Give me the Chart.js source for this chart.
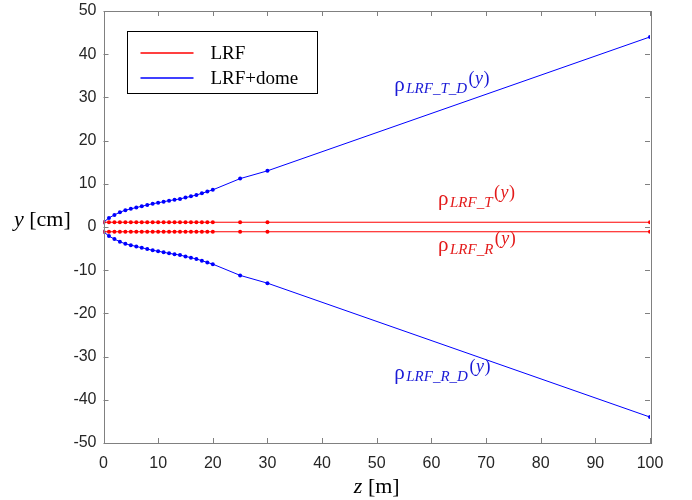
<!DOCTYPE html>
<html>
<head>
<meta charset="utf-8">
<script src="https://cdn.jsdelivr.net/npm/chart.js@4/dist/chart.umd.min.js"></script>
<style>
  html, body { margin: 0; padding: 0; background: #fff; }
  #wrap { width: 692px; height: 500px; }
</style>
</head>
<body>
<div id="wrap"><canvas id="rho"></canvas></div>
<script>
// distance along z [m]
const zVals = [0, 1, 2, 3, 4, 5, 6, 7, 8, 9, 10, 11, 12, 13, 14, 15, 16, 17, 18, 19, 20, 25, 30, 100];
// LRF only [cm]
const lrfTop = [1.1, 1.1, 1.1, 1.1, 1.1, 1.1, 1.1, 1.1, 1.1, 1.1, 1.1, 1.1, 1.1, 1.1, 1.1, 1.1, 1.1, 1.1, 1.1, 1.1, 1.1, 1.1, 1.1, 1.1];
const lrfBottom = [-1.1, -1.1, -1.1, -1.1, -1.1, -1.1, -1.1, -1.1, -1.1, -1.1, -1.1, -1.1, -1.1, -1.1, -1.1, -1.1, -1.1, -1.1, -1.1, -1.1, -1.1, -1.1, -1.1, -1.1];
// LRF + dome [cm]
const domeTop = [1.1, 2.1, 2.8, 3.4, 3.9, 4.2, 4.5, 4.8, 5.1, 5.4, 5.6, 5.85, 6.1, 6.3, 6.5, 6.8, 7.1, 7.4, 7.8, 8.2, 8.6, 11.2, 13.0, 44.0];
const domeBottom = [-1.1, -2.1, -2.8, -3.4, -3.9, -4.2, -4.5, -4.8, -5.1, -5.4, -5.6, -5.85, -6.1, -6.3, -6.5, -6.8, -7.1, -7.4, -7.8, -8.2, -8.6, -11.2, -13.0, -44.0];
const xTicks = [0, 10, 20, 30, 40, 50, 60, 70, 80, 90, 100];
const yTicks = [-50, -40, -30, -20, -10, 0, 10, 20, 30, 40, 50];
const legendLabels = ['LRF', 'LRF+dome'];
// curve labels: [subscript, z, y, colour]
const curveLabels = [
  ['LRF_T_D', 53.2, 31.5, 'blue'],
  ['LRF_T', 61.2, 5.2, 'red'],
  ['LRF_R', 61.2, -5.6, 'red'],
  ['LRF_R_D', 53.2, -35.1, 'blue']
];

const RED = '#ff0000', BLUE = '#0000ff';
const TXT = { red: '#e31a1a', blue: '#1a1ad6' };
const SERIF = '"Liberation Serif", "Times New Roman", serif';

function pts(ys) { return zVals.map((z, i) => ({ x: z, y: ys[i] })) }

function series(ys, col) {
  return {
    data: pts(ys), showLine: true, borderColor: col, backgroundColor: col,
    borderWidth: 1, pointRadius: 2, pointBorderWidth: 0, pointHoverRadius: 2
  }
}

const framePlugin = {
  id: 'frame',
  afterDraw(chart) {
    const c = chart.ctx, a = chart.chartArea
    const xs = chart.scales.x, ys = chart.scales.y
    c.save()
    c.strokeStyle = '#808080'
    c.lineWidth = 1
    c.strokeRect(Math.round(a.left) + 0.5, Math.round(a.top) + 0.5,
                 Math.round(a.right - a.left), Math.round(a.bottom - a.top))
    c.beginPath()
    xTicks.forEach(v => {
      const p = Math.round(xs.getPixelForValue(v)) + 0.5
      c.moveTo(p, a.bottom); c.lineTo(p, a.bottom - 5)
      c.moveTo(p, a.top); c.lineTo(p, a.top + 5)
    })
    yTicks.forEach(v => {
      const p = Math.round(ys.getPixelForValue(v)) + 0.5
      c.moveTo(a.left, p); c.lineTo(a.left + 5, p)
      c.moveTo(a.right, p); c.lineTo(a.right - 5, p)
    })
    c.stroke()

    // legend box
    const lx = a.left + 23, ly = a.top + 20, lw = 190, lh = 62
    c.fillStyle = '#fff'
    c.fillRect(lx, ly, lw, lh)
    c.strokeStyle = '#000'
    c.strokeRect(Math.round(lx) + 0.5, Math.round(ly) + 0.5, lw, lh)
    c.font = '19px ' + SERIF
    c.textBaseline = 'alphabetic'
    c.textAlign = 'left'
    c.lineWidth = 1.6;
    [[RED, 21.5], [BLUE, 46.5]].forEach((s, i) => {
      c.strokeStyle = s[0]
      c.beginPath()
      c.moveTo(lx + 14, Math.round(ly + s[1]))
      c.lineTo(lx + 67, Math.round(ly + s[1]))
      c.stroke()
      c.fillStyle = '#000'
      c.fillText(legendLabels[i], lx + 84, ly + s[1] + 6)
    })

    // curve labels
    curveLabels.forEach(l => {
      const x0 = xs.getPixelForValue(l[1]), b0 = ys.getPixelForValue(l[2])
      c.fillStyle = TXT[l[3]]
      c.font = '21px ' + SERIF
      c.fillText('\u03c1', x0, b0)
      c.font = 'italic 15px ' + SERIF
      const sx = x0 + 12
      c.fillText(l[0], sx, b0 + 2.5)
      let px = sx + c.measureText(l[0]).width + 1.5
      const pb = b0 - 7
      c.font = '18px ' + SERIF
      c.fillText('(', px, pb); px += c.measureText('(').width + 0.5
      c.font = 'italic 18px ' + SERIF
      c.fillText('y', px, pb); px += c.measureText('y').width + 0.5
      c.font = '18px ' + SERIF
      c.fillText(')', px, pb)
    })

    // axis titles
    c.fillStyle = '#000'
    c.font = 'italic 22px ' + SERIF
    c.fillText('y', 14, 226)
    let w = c.measureText('y').width
    c.font = '22px ' + SERIF
    c.fillText(' [cm]', 14 + w, 226)
    const mid = (a.left + a.right) / 2
    c.font = 'italic 22px ' + SERIF
    const wz = c.measureText('z').width
    c.font = '22px ' + SERIF
    const wm = c.measureText(' [m]').width
    const sx = mid - (wz + wm) / 2
    c.font = 'italic 22px ' + SERIF
    c.fillText('z', sx, 493)
    c.font = '22px ' + SERIF
    c.fillText(' [m]', sx + wz, 493)
    c.restore()
  }
}

const tickFont = { family: '"Liberation Sans", Arial, sans-serif', size: 16 }

new Chart(document.getElementById('rho'), {
  type: 'scatter',
  data: {
    datasets: [
      series(lrfTop, RED), series(lrfBottom, RED),
      series(domeTop, BLUE), series(domeBottom, BLUE)
    ]
  },
  options: {
    responsive: true,
    maintainAspectRatio: false,
    animation: false,
    events: [],
    layout: { padding: { top: 11, right: 42, left: 0, bottom: 0 } },
    plugins: { legend: { display: false }, tooltip: { enabled: false } },
    scales: {
      x: {
        type: 'linear', min: 0, max: 100,
        afterFit(s) { s.height = 57; s.paddingLeft = 0; s.paddingRight = 0 },
        afterBuildTicks(s) { s.ticks = xTicks.map(v => ({ value: v })) },
        grid: { display: false, drawTicks: false }, border: { display: false },
        ticks: { font: tickFont, color: '#262626', padding: 11, maxRotation: 0 }
      },
      y: {
        type: 'linear', min: -50, max: 50,
        afterFit(s) { s.width = 103.5; s.paddingTop = 0; s.paddingBottom = 0 },
        afterBuildTicks(s) { s.ticks = yTicks.map(v => ({ value: v })) },
        grid: { display: false, drawTicks: false }, border: { display: false },
        ticks: { font: tickFont, color: '#262626', padding: 7 }
      }
    }
  },
  plugins: [framePlugin]
})
</script>
</body>
</html>
